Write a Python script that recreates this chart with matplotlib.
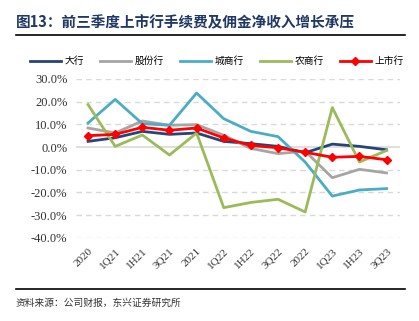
import matplotlib
matplotlib.use('Agg')
import matplotlib.pyplot as plt
import numpy as np

plt.rcParams['font.family'] = ['Noto Sans CJK SC', 'DejaVu Sans']

quarters = ['2020', '1Q21', '1H21', '3Q21', '2021', '1Q22', '1H22', '3Q22', '2022', '1Q23', '1H23', '3Q23']
big = [2.5, 4.1, 6.9, 5.6, 6.2, 2.5, 1.5, 0.3, -2.5, 1.3, 0.3, -1.2]
joint = [8.4, 6.2, 11.5, 9.6, 9.9, 5.2, -0.6, -2.9, -1.8, -13.5, -9.8, -11.4]
city = [10.6, 21.0, 10.3, 9.6, 23.8, 12.5, 6.9, 4.6, -6.6, -21.6, -18.9, -18.3]
rural = [18.7, 0.3, 5.3, -3.5, 6.2, -26.7, -24.4, -23.0, -28.6, 17.4, -6.6, -1.5]
listed = [5.0, 5.6, 8.7, 7.4, 8.4, 4.0, 0.7, -0.3, -2.3, -4.5, -4.1, -5.6]

x = np.arange(len(quarters))

fig = plt.figure(figsize=(4.19, 3.21), dpi=100)
ax = fig.add_axes([0.181, 0.259, 0.774, 0.495])

ax.plot(x, big, color='#264478', lw=2, label='大行')
ax.plot(x, joint, color='#A5A5A5', lw=2, label='股份行')
ax.plot(x, city, color='#4BACC6', lw=2, label='城商行')
ax.plot(x, rural, color='#9BBB59', lw=2, label='农商行')
ax.plot(x, listed, color='#FF0000', lw=2, marker='D', ms=4.5, label='上市行')

ax.set_xlim(-0.45, 11.5)
ax.set_ylim(-40, 30)
ax.set_yticks(np.arange(-40, 31, 10))
ax.set_yticklabels(['%.1f%%' % v for v in np.arange(-40, 31, 10)],
                   family=['Liberation Serif'], fontsize=9, color='#333333')
ax.set_xticks(x)
ax.set_xticklabels(quarters, rotation=45, family=['Liberation Serif'], fontsize=8,
                   color='#333333')
for lbl in ax.get_xticklabels():
    lbl.set_rotation_mode('anchor')
    lbl.set_ha('right')
    lbl.set_va('top')
ax.tick_params(axis='x', length=0, pad=6)
ax.tick_params(axis='y', length=0, pad=6)

# 网格线
for v in np.arange(-40, 31, 10):
    if v == 0:
        ax.axhline(v, color='#D9D9D9', lw=1.2, zorder=0)
    else:
        ax.axhline(v, color='#D9D9D9', lw=1, ls=(0, (4, 3)), zorder=0)
for s in ax.spines.values():
    s.set_visible(False)

ax.legend(loc='lower center', bbox_to_anchor=(0.435, 1.08), ncol=5, frameon=False,
          fontsize=7, handlelength=3.2, columnspacing=1.6, handletextpad=0.4,
          borderaxespad=0, borderpad=0)

fig.text(0.038, 0.93, '图13：前三季度上市行手续费及佣金净收入增长承压', fontsize=10.5,
         fontweight='bold', color='#1F3864', va='center')
fig.add_artist(plt.Line2D([0.038, 0.967], [0.891, 0.891], color='black', lw=1.2))
fig.add_artist(plt.Line2D([0.038, 0.967], [0.1, 0.1], color='black', lw=1.2))
fig.text(0.038, 0.056, '资料来源：公司财报，东兴证券研究所', fontsize=7, color='#333333',
         va='center', style='italic')

fig.savefig('out.png', dpi=100)
